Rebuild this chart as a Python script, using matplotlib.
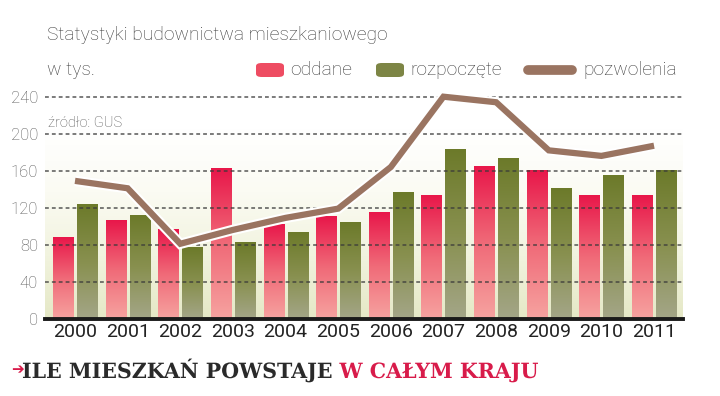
import numpy as np
import matplotlib
matplotlib.use("Agg")
import matplotlib.pyplot as plt
import matplotlib.patheffects as pe
from matplotlib.colors import LinearSegmentedColormap
from matplotlib.patches import FancyBboxPatch, PathPatch
from matplotlib.lines import Line2D
from matplotlib.textpath import TextPath
from matplotlib.font_manager import FontProperties
from matplotlib.transforms import Affine2D, IdentityTransform

plt.rcParams["font.family"] = ["Roboto", "DejaVu Sans"]

# dane (tys. mieszkań), GUS
years = ["2000", "2001", "2002", "2003", "2004", "2005",
         "2006", "2007", "2008", "2009", "2010", "2011"]
oddane = [88, 107, 97, 163, 102, 111, 115, 133, 165, 161, 134, 133]
rozpoczete = [124, 112, 77, 83, 93, 104, 137, 183, 174, 141, 155, 161]
pozwolenia = [149, 141, 81, 96, 109, 119, 164, 240, 234, 182, 176, 187]
yticks = [0, 40, 80, 120, 160, 200, 240]

W, H = 720, 396
fig = plt.figure(figsize=(W / 100, H / 100), dpi=100)
fig.patch.set_facecolor("white")

# y: 0 -> 318.7 px, 240 -> 96.7 px
px_per_unit = (318.7 - 96.7) / 240
ytop = 252
ax_bottom = 1 - 318.7 / H
ax_height = ytop * px_per_unit / H
ax = fig.add_axes([45 / W, ax_bottom, (683 - 45) / W, ax_height])

x = np.arange(len(years))
bw = 0.38
off = 0.228
xmin, xmax = -0.57, len(years) - 1 + 0.55

red_cm = LinearSegmentedColormap.from_list("red", ["#f6a3a0", "#f06a78", "#e8174a"])
grn_cm = LinearSegmentedColormap.from_list("grn", ["#a4a688", "#88904f", "#6c7a2a"])
bg_cm = LinearSegmentedColormap.from_list("bg", ["#e5e8c6", "#f1f3de", "#fbfbf3", "#ffffff"])

grad = np.linspace(0, 1, 256).reshape(-1, 1)

# tło z gradientem
ax.imshow(grad, extent=[xmin, xmax, 0, 205], origin="lower", aspect="auto",
          cmap=bg_cm, zorder=0)

bars_r = ax.bar(x - off, oddane, bw, color="none", zorder=1)
bars_g = ax.bar(x + off, rozpoczete, bw, color="none", zorder=1)
for bars, cm in ((bars_r, red_cm), (bars_g, grn_cm)):
    for b in bars:
        x0, w, h = b.get_x(), b.get_width(), b.get_height()
        ax.imshow(grad, extent=[x0, x0 + w, 0, h], origin="lower",
                  aspect="auto", cmap=cm, zorder=1)

# siatka nad słupkami
for t in yticks[1:]:
    ax.axhline(t, color="#3a3a3a", lw=1.1, ls=(0, (2.5, 2.0)), alpha=0.85, zorder=2)

ax.plot(x, pozwolenia, color="#9a7461", lw=4.5, solid_joinstyle="miter",
        solid_capstyle="butt", zorder=3, clip_on=False,
        path_effects=[pe.Stroke(linewidth=7.5, foreground="white"), pe.Normal()])

ax.set_xlim(xmin, xmax)
ax.set_ylim(0, ytop)
ax.set_yticks(yticks)
ax.set_xticks(x)
ax.set_xticklabels(years)
for s in ("top", "right", "left"):
    ax.spines[s].set_visible(False)
ax.spines["bottom"].set_linewidth(2.8)
ax.spines["bottom"].set_color("#1a1a1a")
ax.spines["bottom"].set_zorder(4)
ax.tick_params(axis="y", length=0, pad=5, labelsize=12, labelcolor="#555555")
ax.tick_params(axis="x", length=0, pad=3, labelsize=14, labelcolor="#222222")
for lab in ax.get_yticklabels():
    lab.set_fontweight("light")
ax.set_facecolor("none")

fig.text(48 / W, 1 - 123 / H, "źródło: GUS", fontsize=10.5, color="#555555",
         va="center", ha="left", fontweight="light")

# tytuł
fs = 13.8
fig.text(47 / W, 1 - 35 / H, "Statystyki budownictwa mieszkaniowego",
         fontsize=fs, color="#3a3a3a", va="center", ha="left", fontweight="light")
fig.text(47 / W, 1 - 70 / H, "w tys.", fontsize=fs, color="#3a3a3a",
         va="center", ha="left", fontweight="light")

# legenda
ly = 1 - 70 / H
fig.add_artist(FancyBboxPatch((256 / W, 1 - 77 / H), 28 / W, 14 / H,
                              boxstyle="round,pad=0,rounding_size=0.008",
                              facecolor="#ee4c62", edgecolor="none",
                              transform=fig.transFigure))
fig.text(290 / W, ly, "oddane", fontsize=fs, color="#3a3a3a", va="center",
         fontweight="light")
fig.add_artist(FancyBboxPatch((376 / W, 1 - 77 / H), 28 / W, 14 / H,
                              boxstyle="round,pad=0,rounding_size=0.008",
                              facecolor="#7d8545", edgecolor="none",
                              transform=fig.transFigure))
fig.text(410 / W, ly, "rozpoczęte", fontsize=fs, color="#3a3a3a", va="center",
         fontweight="light")
fig.add_artist(Line2D([528 / W, 572 / W], [ly, ly], lw=7, color="#9a7461",
                      solid_capstyle="round", transform=fig.transFigure))
fig.text(583 / W, ly, "pozwolenia", fontsize=fs, color="#3a3a3a", va="center",
         fontweight="light")

# podpis: wąski krój szeryfowy (ścieśniony TextPath)
fig.text(17 / W, 1 - 370 / H, "➔", fontsize=11, color="#d81b4a", va="center",
         ha="center", family="DejaVu Sans")
fp = FontProperties(family="DejaVu Serif", weight="bold", size=21)
p1 = TextPath((0, 0), "ILE MIESZKAŃ POWSTAJE", prop=fp)
p2 = TextPath((0, 0), "W CAŁYM KRAJU", prop=fp)
gap = 8
w1 = p1.get_extents().x1
w2 = p2.get_extents().x1
x_start, x_end, base = 22, 538, H - 378
sx = (x_end - x_start - gap) / (w1 + w2)
for path, col, x0 in ((p1, "#2a2a2a", x_start),
                      (p2, "#d81b4a", x_start + w1 * sx + gap)):
    tr = Affine2D().scale(sx, 1).translate(x0, base) + IdentityTransform()
    fig.add_artist(PathPatch(path, facecolor=col, edgecolor="none",
                             transform=tr))

fig.savefig("out.png", dpi=100)
